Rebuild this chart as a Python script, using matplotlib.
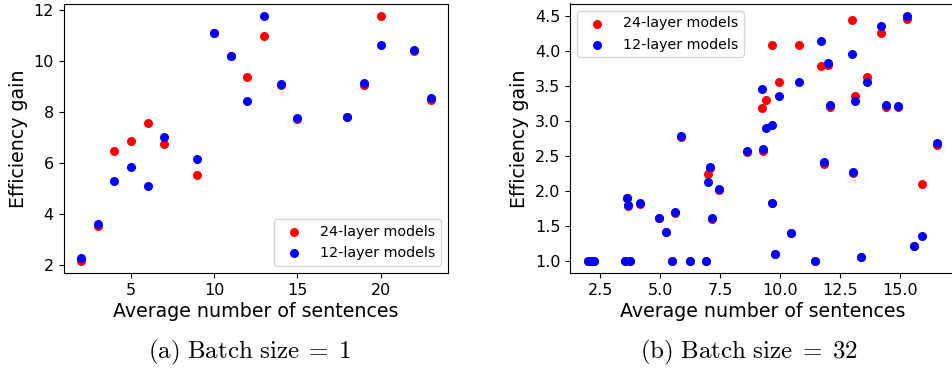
import numpy as np
import matplotlib.pyplot as plt

plt.rcParams['mathtext.fontset'] = 'cm'

# (a) Batch size = 1
x_a = [2, 3, 4, 5, 6, 7, 9, 10, 11, 12, 13, 14, 15, 18, 19, 20, 22, 23]
red_a = [2.15, 3.53, 6.47, 6.88, 7.57, 6.76, 5.52, 11.1, 10.2, 9.37, 10.99,
         9.07, 7.72, 7.8, 9.08, 11.79, 10.42, 8.48]
blue_a = [2.27, 3.58, 5.28, 5.85, 5.11, 7.0, 6.14, 11.11, 10.2, 8.42, 11.76,
          9.11, 7.76, 7.82, 9.14, 10.64, 10.46, 8.55]

# (b) Batch size = 32
x_b = [2.0, 2.1, 2.25, 3.54, 3.61, 3.64, 3.75, 4.17, 4.96, 5.26, 5.5, 5.61,
       5.875, 6.22, 6.9, 6.97, 7.07, 7.17, 7.45, 8.6, 9.24, 9.29, 9.39, 9.65,
       9.67, 9.79, 9.96, 10.43, 10.8, 11.45, 11.68, 11.83, 11.97, 12.08,
       12.97, 13.04, 13.1, 13.36, 13.6, 14.2, 14.39, 14.89, 15.29, 15.58,
       15.92, 16.55]
red_b = [1.0, 1.0, 1.0, 1.0, 1.9, 1.78, 1.0, 1.81, 1.61, 1.41, 1.0, 1.68,
         2.77, 1.0, 1.0, 2.24, 2.33, 1.6, 2.01, 2.56, 3.18, 2.57, 3.3, 4.08,
         1.82, 1.09, 3.55, 1.39, 4.08, 1.0, 3.78, 2.38, 3.79, 3.19, 4.44,
         2.26, 3.36, 1.06, 3.62, 4.26, 3.19, 3.19, 4.46, 1.21, 2.09, 2.65]
blue_b = [1.0, 1.0, 1.0, 1.0, 1.9, 1.8, 1.0, 1.82, 1.61, 1.41, 1.0, 1.69,
          2.78, 1.0, 1.0, 2.13, 2.34, 1.61, 2.02, 2.57, 3.45, 2.6, 2.9, 2.94,
          1.83, 1.09, 3.35, 1.4, 3.56, 1.0, 4.14, 2.41, 3.82, 3.22, 3.96,
          2.27, 3.28, 1.06, 3.55, 4.35, 3.22, 3.21, 4.5, 1.21, 1.35, 2.68]

fig = plt.figure(figsize=(9.52, 3.72), dpi=100)
W, H = 952, 372
ax1 = fig.add_axes([63.5 / W, 1 - 273 / H, (448 - 63.5) / W, (273 - 3.5) / H])
ax2 = fig.add_axes([570 / W, 1 - 273 / H, (955 - 570) / W, (273 - 3.5) / H])

for ax, x, r, b, loc in [(ax1, x_a, red_a, blue_a, 'lower right'),
                         (ax2, x_b, red_b, blue_b, 'upper left')]:
    ax.scatter(x, r, c='red', s=30, label='24-layer models', zorder=2)
    ax.scatter(x, b, c='blue', s=30, label='12-layer models', zorder=3)
    ax.set_xlabel('Average number of sentences', fontsize=13.7, labelpad=3)
    ax.set_ylabel('Efficiency gain', fontsize=13.7, labelpad=4)
    ax.tick_params(labelsize=11.5)
    ax.legend(loc=loc, fontsize=10.3)

ax1.set_xlim(0.95, 24.05)
ax1.set_ylim(1.67, 12.27)
ax1.set_xticks([5, 10, 15, 20])
ax1.set_yticks([2, 4, 6, 8, 10, 12])
ax2.set_xlim(1.24, 17.28)
ax2.set_ylim(0.825, 4.675)
ax2.set_xticks([2.5, 5.0, 7.5, 10.0, 12.5, 15.0])

fig.text(250 / W, 1 - 352 / H, r'$\mathrm{(a)\ Batch\ size}\;=\;1$',
         ha='center', va='center', fontsize=18)
fig.text(749 / W, 1 - 352 / H, r'$\mathrm{(b)\ Batch\ size}\;=\;32$',
         ha='center', va='center', fontsize=18)

plt.savefig('out.png', dpi=100)
